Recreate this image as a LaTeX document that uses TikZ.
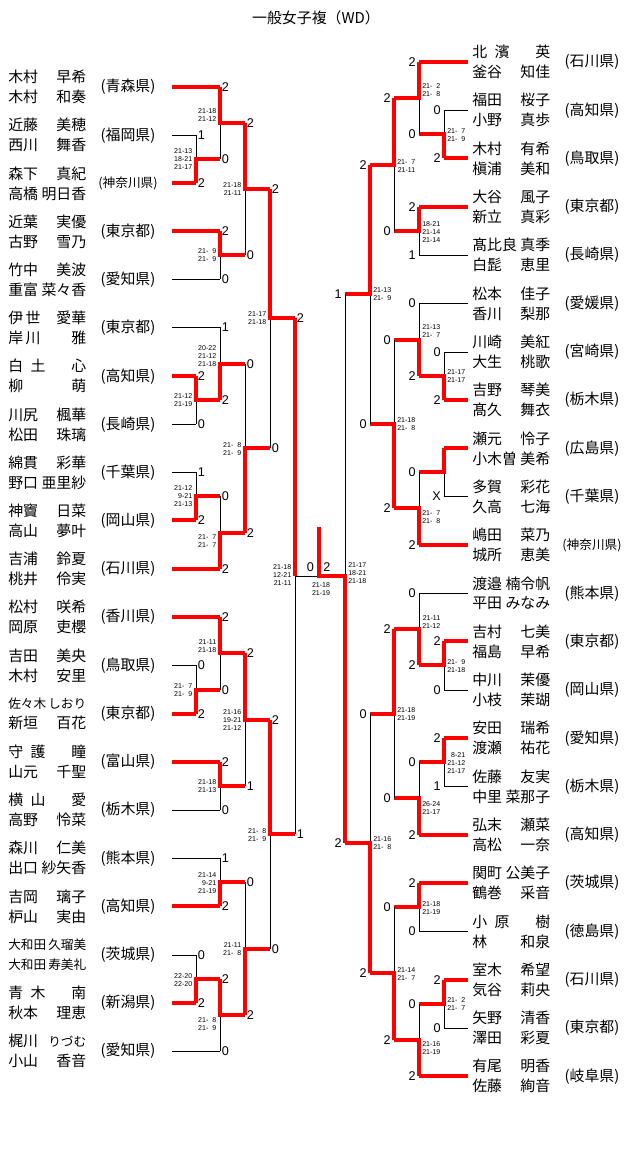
\documentclass[tikz,border=0pt]{standalone}
\usepackage{fontspec}
\setmainfont{Liberation Sans}
\newfontfamily\jpfont{Noto Sans CJK JP}
\newcommand\nm[2]{\makebox[1.95cm][l]{#1\hfill#2}}
\newcommand\sm{\fontsize{9}{9}\selectfont}
\begin{document}
\begin{tikzpicture}[x=0.025cm,y=-0.025cm]
  \tikzset{
  wd team/.style={anchor=west,align=left,inner sep=0,font=\jpfont\fontsize{10.6}{14.2}\selectfont},
  wd pref/.style={inner sep=0,font=\jpfont\fontsize{10.6}{12}\selectfont},
  wd win/.style={draw=red,line width=2.3pt},
  wd lose/.style={draw=black,line width=0.7pt},
  wd pt/.style={inner sep=0,font=\fontsize{9}{9}\selectfont},
  wd score/.style={inner sep=0,align=right,font=\fontsize{5}{5.6}\selectfont}
  }
  \useasboundingbox (0,0) rectangle (640,1165);
  \node[wd pref] (title) at (316,18) {一般女子複（WD）};

  % left teams
  \foreach \fa/\ga/\fb/\gb/\p [count=\i] in {
    木村/早希/木村/和奏/(青森県),
    近藤/美穂/西川/舞香/(福岡県),
    森下/真紀/高橋/明日香/{\sm(神奈川県)},
    近葉/実優/古野/雪乃/(東京都),
    竹中/美波/重富/菜々香/(愛知県),
    伊\,世/愛華/岸\,川/雅/(東京都),
    白\enspace 土/心/柳/萌/(高知県),
    川尻/楓華/松田/珠璃/(長崎県),
    綿貫/彩華/野口/亜里紗/(千葉県),
    神竇/日菜/高山/夢叶/(岡山県),
    吉浦/鈴夏/桃井/伶実/(石川県),
    松村/咲希/岡原/吏櫻/(香川県),
    吉田/美央/木村/安里/(鳥取県),
    {\sm 佐々木}/{\sm しおり}/新垣/百花/(東京都),
    守\enspace 護/瞳/山元/千聖/(富山県),
    横\enspace 山/愛/高野/怜菜/(栃木県),
    森川/仁美/出口/紗矢香/(熊本県),
    吉岡/璃子/枦山/実由/(高知県),
    {\sm 大和田}/{\sm 久瑠美}/{\sm 大和田}/{\sm 寿美礼}/(茨城県),
    青\enspace 木/南/秋本/理恵/(新潟県),
    梶川/{\sm りづむ}/小山/香音/(愛知県)}
  {
    \node[wd team] (nl\i) at (8,{87+48.2*(\i-1)}) {\nm{\fa}{\ga}\\\nm{\fb}{\gb}};
    \node[wd pref] (pl\i) at (128,{87+48.2*(\i-1)}) {\p};
  }

  % right teams
  \foreach \fa/\ga/\fb/\gb/\p [count=\i] in {
    北\enspace 濱/英/釜谷/知佳/(石川県),
    福田/桜子/小野/真歩/(高知県),
    木村/有希/槇浦/美和/(鳥取県),
    大谷/風子/新立/真彩/(東京都),
    髙比良/真季/白髭/恵里/(長崎県),
    松本/佳子/香川/梨那/(愛媛県),
    川崎/美紅/大生/桃歌/(宮崎県),
    吉野/琴美/髙久/舞衣/(栃木県),
    瀬元/怜子/小木曽/美希/(広島県),
    多賀/彩花/久高/七海/(千葉県),
    嶋田/菜乃/城所/恵美/{\sm(神奈川県)},
    渡邉/楠令帆/平田/みなみ/(熊本県),
    吉村/七美/福島/早希/(東京都),
    中川/茉優/小枝/茉瑚/(岡山県),
    安田/瑞希/渡瀬/祐花/(愛知県),
    佐藤/友実/中里/菜那子/(栃木県),
    弘末/瀬菜/高松/一奈/(高知県),
    関町/公美子/鶴巻/采音/(茨城県),
    小\enspace 原/樹/林/和泉/(徳島県),
    室木/希望/気谷/莉央/(石川県),
    矢野/清香/澤田/彩夏/(東京都),
    有尾/明香/佐藤/絢音/(岐阜県)}
  {
    \node[wd team] (nr\i) at (472,{62+48.3*(\i-1)}) {\nm{\fa}{\ga}\\\nm{\fb}{\gb}};
    \node[wd pref] (pr\i) at (592,{62+48.3*(\i-1)}) {\p};
  }

  % entry lines
  \foreach \y/\x/\s in {87/220/win,135/196/lose,183/196/win,231/220/win,279/220/lose,
    327/220/lose,376/196/win,424/196/lose,472/196/lose,520/196/win,569/220/win,
    617/220/win,665/196/lose,714/196/win,762/220/win,810/220/lose,858/220/lose,
    906/220/win,955/196/lose,1003/196/win,1051/220/lose}
    \draw[wd \s] (172,\y) -- (\x,\y);
  \foreach \y/\x/\s in {62/419/win,110/444/lose,158/444/win,207/419/win,255/419/lose,
    303/419/lose,352/444/lose,400/444/win,448/444/win,496/444/lose,545/419/win,
    593/419/lose,641/444/win,690/444/lose,738/444/win,786/444/lose,835/419/win,
    883/419/win,931/419/lose,980/444/win,1028/444/lose,1076/419/win}
    \draw[wd \s] (468,\y) -- (\x,\y);

  % matches: x / winner y / junction y / loser y / next x
  \foreach \x/\w/\j/\l/\o in {196/183/159/135/220,220/87/123/159/245,220/231/255/279/245,
    245/123/189/255/270,196/376/400/424/220,220/400/364/327/245,196/520/496/472/220,
    220/569/533/496/245,245/533/448/364/270,270/189/318/448/295,196/714/690/665/220,
    220/617/653/690/245,220/762/786/810/245,245/653/720/786/270,220/906/882/858/245,
    196/1003/979/955/220,220/979/1015/1051/245,245/1015/949/882/270,270/720/834/949/295,
    444/158/134/110/419,419/62/98/134/394,419/207/231/255/394,394/98/165/231/370,
    444/400/376/352/419,419/376/340/303/394,444/448/472/496/419,419/545/508/472/394,
    394/508/424/340/370,370/165/294/424/345,444/641/665/690/419,419/665/629/593/394,
    444/738/762/786/419,419/835/798/762/394,394/629/714/798/370,419/883/907/931/394,
    444/980/1004/1028/419,419/1076/1040/1004/394,394/1040/973/907/370,370/973/843/714/345}
  {
    \draw[wd lose] (\x,\j) -- (\x,\l);
    \draw[wd win] (\x,\w) -- (\x,\j) -- (\o,\j);
  }
  \draw[wd lose] (295,576) -- (295,834);
  \draw[wd lose] (345,576) -- (345,294);
  \draw[wd lose] (295,576) -- (319,576);
  \draw[wd win] (295,318) -- (295,576);
  \draw[wd win] (345,843) -- (345,576) -- (319,576) -- (319,527);

  % games won
  \foreach \x/\y/\t [count=\i] in {196/135/1,196/183/2,220/87/2,220/159/0,220/231/2,220/279/0,
    245/123/2,245/255/0,196/376/2,196/424/0,220/327/1,220/400/2,196/472/1,196/520/2,
    220/496/0,220/569/2,245/364/0,245/533/2,270/189/2,270/448/0,196/665/0,196/714/2,
    220/617/2,220/690/0,220/762/2,220/810/0,245/653/2,245/786/1,220/858/1,220/906/2,
    196/955/0,196/1003/2,220/979/2,220/1051/0,245/882/0,245/1015/2,270/720/2,270/949/0,
    295/318/2,295/834/1}
    \node[wd pt,anchor=west] (gl\i) at (\x+1.5,\y) {\t};
  \foreach \x/\y/\t [count=\i] in {444/110/0,444/158/2,419/62/2,419/134/0,419/207/2,419/255/1,
    394/98/2,394/231/0,444/352/0,444/400/2,419/303/0,419/376/2,444/496/X,419/472/0,
    419/545/2,394/340/0,394/508/2,370/165/2,370/424/0,444/641/2,444/690/0,419/593/0,
    419/665/2,444/738/2,444/786/1,419/762/0,419/835/2,394/629/2,394/798/0,419/883/2,
    419/931/0,444/980/2,444/1028/0,419/1004/0,419/1076/2,394/907/0,394/1040/2,
    370/714/0,370/973/2,345/294/1,345/843/2}
    \node[wd pt,anchor=east] (gr\i) at (\x-3,\y) {\t};
  \node[wd pt] (fl) at (310.5,567) {0};
  \node[wd pt] (fr) at (327,567) {2};

  % game scores
  \foreach \x/\y/\s [count=\i] in {196/159/{21-13\\18-21\\21-17},220/115/{21-18\\21-12},
    220/255/{21-\phantom{0}9\\21-\phantom{0}9},245/189/{21-18\\21-11},196/400/{21-12\\21-19},
    220/356/{20-22\\21-12\\21-18},196/496/{21-12\\9-21\\21-13},
    220/541/{21-\phantom{0}7\\21-\phantom{0}7},245/449/{21-\phantom{0}8\\21-\phantom{0}9},
    270/318/{21-17\\21-18},196/690/{21-\phantom{0}7\\21-\phantom{0}9},220/646/{21-11\\21-18},
    220/786/{21-18\\21-13},245/720/{21-16\\19-21\\21-12},220/883/{21-14\\9-21\\21-19},
    196/980/{22-20\\22-20},220/1024/{21-\phantom{0}8\\21-\phantom{0}9},
    245/949/{21-11\\21-\phantom{0}8},270/835/{21-\phantom{0}8\\21-\phantom{0}9},
    295/575/{21-18\\12-21\\21-11}}
    \node[wd score,anchor=east] (sl\i) at (\x-3.5,\y) {\s};
  \foreach \x/\y/\s [count=\i] in {444/135/{21-\phantom{0}7\\21-\phantom{0}9},
    419/90/{21-\phantom{0}2\\21-\phantom{0}8},419/232/{18-21\\21-14\\21-14},
    394/166/{21-\phantom{0}7\\21-11},444/376/{21-17\\21-17},419/331/{21-13\\21-\phantom{0}7},
    419/517/{21-\phantom{0}7\\21-\phantom{0}8},394/424/{21-18\\21-\phantom{0}8},
    370/294/{21-13\\21-\phantom{0}9},444/666/{21-\phantom{0}9\\21-18},419/622/{21-11\\21-12},
    444/763/{8-21\\21-12\\21-17},419/808/{26-24\\21-17},394/714/{21-18\\21-19},
    419/908/{21-18\\21-19},444/1004/{21-\phantom{0}2\\21-\phantom{0}7},419/1048/{21-16\\21-19},
    394/974/{21-14\\21-\phantom{0}7},370/843/{21-16\\21-\phantom{0}8},
    345/573/{21-17\\18-21\\21-18}}
    \node[wd score,anchor=west] (sr\i) at (\x+3,\y) {\s};
  \node[wd score] (sf) at (321,589) {21-18\\21-19};
\end{tikzpicture}
\end{document}
